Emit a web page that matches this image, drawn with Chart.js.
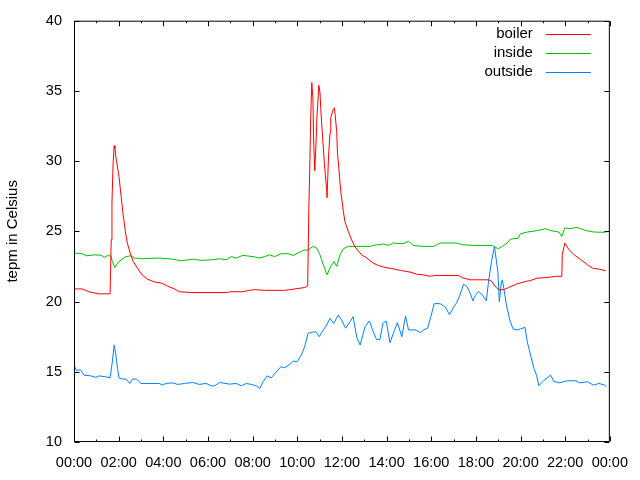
<!DOCTYPE html>
<html>
<head>
<meta charset="utf-8">
<script src="https://cdn.jsdelivr.net/npm/chart.js@4/dist/chart.umd.min.js"></script>
<style>
    html, body { margin: 0; padding: 0; background: #fff; }
    #graphTemp { display: block; }
</style>
</head>
<body>
<canvas id="graphTemp" width="640" height="480"></canvas>
<script>
"use strict"

// *** DATI *** //

let seriesNames = ["boiler", "inside", "outside"];
let seriesColors = ["#ff0000", "#00c000", "#0080ff"];
let yTicks = [10, 15, 20, 25, 30, 35, 40];
let xTickLabels = ["00:00", "02:00", "04:00", "06:00", "08:00", "10:00", "12:00", "14:00", "16:00", "18:00", "20:00", "22:00", "00:00"];

let boilerTime = ["00:00","00:22","00:40","01:07","01:37","01:40","01:42","01:45","01:48","01:50","01:53","02:01","02:07","02:12","02:18","02:23","02:31","02:39","02:50","03:03","03:17","03:36","03:57","04:11","04:30","04:43","05:16","06:53","06:58","07:33","07:52","08:05","08:32","09:26","09:40","10:07","10:20","10:28","10:31","10:34","10:36","10:39","10:42","10:44","10:47","10:50","10:53","10:58","11:01","11:03","11:08","11:13","11:19","11:20","11:24","11:28","11:30","11:37","11:40","11:46","11:48","11:52","11:55","11:58","12:04","12:08","12:17","12:26","12:35","12:44","12:53","13:07","13:24","13:38","13:56","14:18","14:41","15:03","15:21","15:39","15:57","16:11","17:14","17:23","17:45","18:34","18:43","18:52","19:01","19:15","19:28","19:51","20:13","20:27","20:45","21:12","21:34","21:51","21:52","21:59","22:10","22:24","22:42","23:00","23:13","23:31","23:49"];
let boilerTemp = [20.9,20.9,20.7,20.55,20.55,24.4,27.0,29.8,31.1,30.9,30.2,28.9,27.4,26.2,25.0,24.2,23.45,22.86,22.4,21.9,21.6,21.4,21.3,21.1,20.9,20.7,20.64,20.64,20.7,20.7,20.8,20.85,20.8,20.8,20.85,20.95,21.0,21.1,26.55,30.1,33.0,35.6,34.5,31.5,29.3,31.0,33.2,35.4,34.9,33.8,31.7,29.8,27.9,27.4,30.36,32.0,33.1,33.7,33.8,32.1,30.6,29.4,28.45,27.6,26.4,25.7,25.0,24.4,23.9,23.6,23.33,23.1,22.74,22.57,22.43,22.33,22.2,22.1,21.95,21.9,21.8,21.86,21.86,21.7,21.55,21.55,21.43,21.07,20.85,20.85,21.0,21.26,21.43,21.5,21.67,21.71,21.8,21.8,23.33,24.17,23.7,23.33,22.98,22.62,22.38,22.31,22.19];

let insideTime = ["00:00","00:19","00:35","00:54","01:13","01:21","01:29","01:39","01:43","01:50","02:01","02:19","02:33","02:42","03:04","03:49","04:25","04:48","05:19","05:42","06:13","06:31","06:49","07:03","07:16","07:34","08:01","08:19","08:32","08:46","08:59","09:17","09:35","09:49","10:02","10:16","10:29","10:43","10:52","11:01","11:10","11:20","11:30","11:39","11:46","11:55","12:04","12:17","13:16","13:24","13:51","14:05","14:18","14:44","14:59","15:12","15:35","16:06","16:24","17:09","17:23","17:54","18:44","18:52","19:01","19:15","19:24","19:33","19:53","20:00","20:18","20:45","21:08","21:21","21:43","21:51","21:59","22:15","22:29","22:42","22:56","23:18","23:49"];
let insideTemp = [23.45,23.43,23.26,23.33,23.3,23.14,23.26,23.26,22.86,22.43,22.86,23.2,23.26,23.1,23.05,23.1,23.02,22.9,23.02,22.93,22.98,23.05,22.98,23.2,23.1,23.29,23.2,23.1,23.2,23.33,23.2,23.41,23.41,23.29,23.45,23.64,23.69,23.93,23.81,23.33,22.62,21.9,22.5,22.86,22.5,23.33,23.76,23.93,23.93,24.0,24.1,24.0,24.17,24.12,24.29,24.0,23.93,23.93,24.17,24.17,24.05,24.0,24.0,23.86,23.76,24.0,24.17,24.45,24.5,24.83,24.95,25.05,25.19,25.05,24.95,24.64,25.24,25.19,25.29,25.19,25.05,24.95,24.93];

let outsideTime = ["00:00","00:06","00:18","00:27","00:45","00:59","01:07","01:25","01:37","01:43","01:48","01:52","01:57","02:01","02:10","02:20","02:30","02:37","02:48","03:00","03:49","03:58","04:07","04:25","04:39","04:57","05:19","05:37","05:55","06:09","06:18","06:31","06:58","07:16","07:30","07:43","07:56","08:10","08:19","08:28","08:39","08:50","09:04","09:16","09:26","09:40","09:49","09:59","10:11","10:20","10:29","10:40","10:50","10:59","11:10","11:19","11:28","11:38","11:50","11:59","12:10","12:22","12:30","12:40","12:49","13:02","13:14","13:24","13:33","13:42","13:50","13:59","14:09","14:20","14:29","14:41","14:51","14:59","15:17","15:31","15:39","15:50","15:59","16:08","16:24","16:38","16:49","17:00","17:09","17:18","17:27","17:36","17:43","17:52","17:58","18:07","18:16","18:28","18:34","18:42","18:50","18:54","18:59","19:03","19:08","19:11","19:15","19:22","19:31","19:40","19:51","20:00","20:12","20:18","20:27","20:36","20:43","20:49","21:03","21:21","21:29","21:43","22:06","22:29","22:39","23:00","23:16","23:31","23:46","23:51"];
let outsideTemp = [15.48,15.12,15.12,14.76,14.71,14.6,14.71,14.64,14.57,15.71,16.9,16.3,15.24,14.57,14.48,14.48,14.17,14.48,14.48,14.17,14.17,14.05,14.17,14.21,14.1,14.17,14.24,14.1,14.17,14.0,14.0,14.24,14.12,14.17,14.0,14.17,14.1,14.0,13.81,14.29,14.71,14.57,15.0,15.36,15.29,15.52,15.76,15.71,16.19,16.79,17.74,17.81,17.86,17.5,17.98,18.33,18.81,18.45,19.05,18.69,18.1,18.57,18.93,17.43,16.9,18.21,18.62,17.86,17.3,17.3,18.45,18.62,17.07,17.86,18.5,17.5,18.98,17.98,17.98,17.79,17.98,18.1,18.93,19.85,19.85,19.6,19.07,19.6,19.95,20.52,21.24,21.07,20.71,20.05,20.43,20.71,20.52,20.05,21.43,22.86,23.93,23.1,22.14,20.0,21.31,21.55,20.95,19.76,18.69,18.05,17.98,18.05,18.17,17.14,16.19,15.24,14.76,14.0,14.4,14.76,14.33,14.21,14.36,14.36,14.21,14.29,14.05,14.17,14.05,13.93];

// *** FUNZIONI *** //

function toMinutes (hhmm) {
    let parts = hhmm.split(":");
    return parseInt(parts[0]) * 60 + parseInt(parts[1]);
}

function toPoints (times, values) {
    let points = [];
    for(let i = 0; i < times.length; i++)
        points.push({ x : toMinutes(times[i]), y : values[i] });
    return points;
}

const FONT = "'Liberation Sans', Arial, sans-serif";

// cornice, tacche verso l'interno e legenda stile gnuplot
let gnuplotFrame = {
    id : "gnuplotFrame",
    afterDraw : function (chart) {
        let ctx = chart.ctx;
        let area = chart.chartArea;
        let xs = chart.scales.x, ys = chart.scales.y;
        let l = area.left + 0.5, r = area.right - 0.5, t = area.top + 0.5, b = area.bottom - 0.5;

        ctx.save();
        ctx.strokeStyle = "#000";
        ctx.lineWidth = 1;
        ctx.beginPath();
        ctx.rect(l, t, r - l, b - t);

        // x: maggiori ogni 2 ore, minori ogni ora
        for(let m = 0; m <= 1440; m += 60)
        {
            let px = Math.round(xs.getPixelForValue(m)) + 0.5;
            let len = (m % 120 == 0) ? 5 : 2;
            ctx.moveTo(px, b); ctx.lineTo(px, b - len);
            ctx.moveTo(px, t); ctx.lineTo(px, t + len);
        }
        for(let v of yTicks)
        {
            let py = Math.round(ys.getPixelForValue(v)) + 0.5;
            ctx.moveTo(l, py); ctx.lineTo(l + 5, py);
            ctx.moveTo(r, py); ctx.lineTo(r - 5, py);
        }
        ctx.stroke();

        // legenda
        ctx.font = "15px " + FONT;
        ctx.textAlign = "right";
        ctx.textBaseline = "middle";
        chart.data.datasets.forEach(function (ds, i) {
            let y = area.top + 13 + i * 19;
            ctx.fillStyle = "#000";
            ctx.fillText(ds.label, area.right - 77, y);
            ctx.strokeStyle = ds.borderColor;
            ctx.beginPath();
            ctx.moveTo(area.right - 64, Math.round(y) + 0.5);
            ctx.lineTo(area.right - 19, Math.round(y) + 0.5);
            ctx.stroke();
        });
        ctx.restore();
    }
};

// *** GRAFICO *** //

let allTimes = [boilerTime, insideTime, outsideTime];
let allTemps = [boilerTemp, insideTemp, outsideTemp];
let datasets = [];
for(let i = 0; i < seriesNames.length; i++)
{
    datasets.push({
        label : seriesNames[i],
        data : toPoints(allTimes[i], allTemps[i]),
        borderColor : seriesColors[i],
        backgroundColor : seriesColors[i],
        borderWidth : 1,
        pointRadius : 0,
        tension : 0,
        fill : false
    });
}

let chartTemp = new Chart(document.getElementById("graphTemp"), {
    type : "line",
    data : { datasets : datasets },
    plugins : [gnuplotFrame],
    options : {
        responsive : false,
        animation : false,
        layout : { padding : { top : 20, right : 30, left : 0, bottom : 0 } },
        plugins : {
            legend : { display : false },
            tooltip : { enabled : false }
        },
        scales : {
            x : {
                type : "linear",
                min : 0,
                max : 1440,
                afterFit : function (scale) { scale.height = 38; },
                afterBuildTicks : function (scale) {
                    scale.ticks = xTickLabels.map(function (lbl, i) { return { value : i * 120 }; });
                },
                ticks : {
                    autoSkip : false,
                    maxRotation : 0,
                    padding : 12,
                    color : "#000",
                    font : { family : FONT, size : 14.5 },
                    callback : function (value) { return xTickLabels[Math.round(value / 120)]; }
                },
                grid : { display : false, drawTicks : false },
                border : { display : false }
            },
            y : {
                min : 10,
                max : 40,
                afterFit : function (scale) { scale.width = 74; },
                afterBuildTicks : function (scale) {
                    scale.ticks = yTicks.map(function (v) { return { value : v }; });
                },
                ticks : {
                    padding : 12,
                    color : "#000",
                    font : { family : FONT, size : 14.5 }
                },
                grid : { display : false, drawTicks : false },
                border : { display : false },
                title : {
                    display : true,
                    text : "tepm in Celsius",
                    color : "#000",
                    padding : 4,
                    font : { family : FONT, size : 15 }
                }
            }
        }
    }
});
</script>
</body>
</html>
